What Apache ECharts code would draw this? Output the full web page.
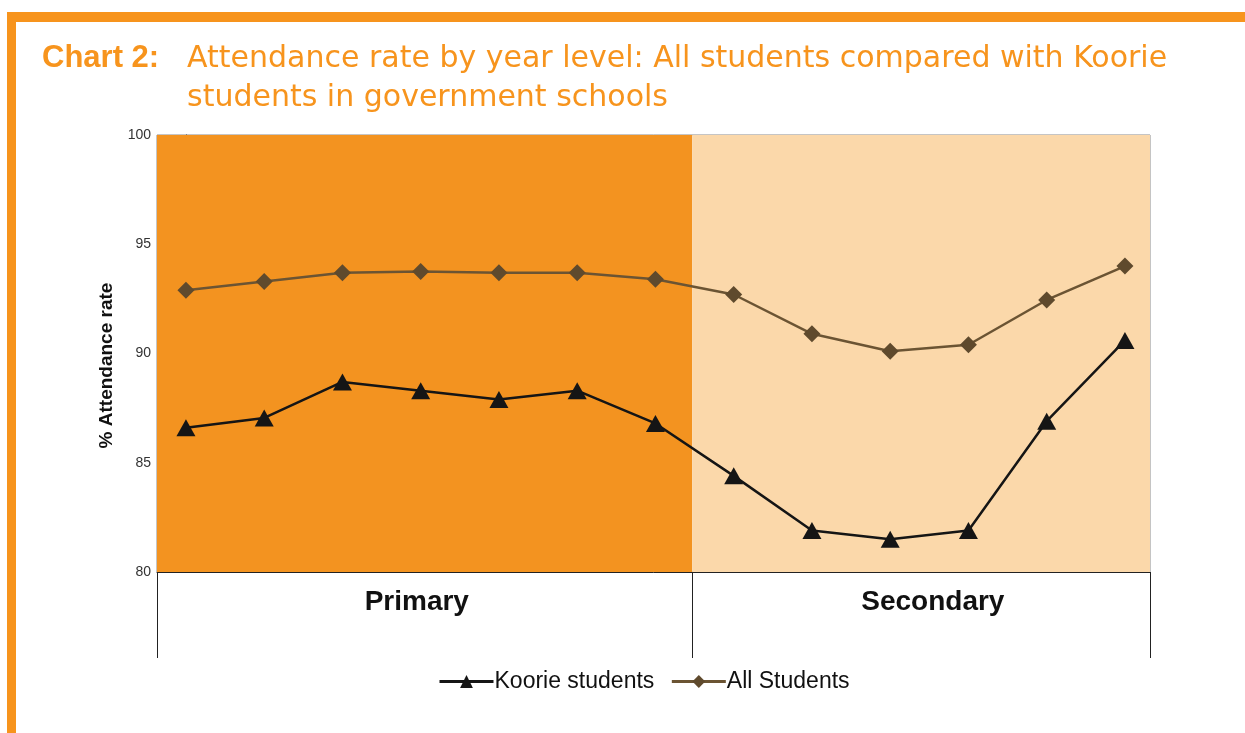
<!DOCTYPE html>
<html>
<head>
<meta charset="utf-8">
<script src="https://cdn.jsdelivr.net/npm/echarts@6/dist/echarts.min.js"></script>
<style>
html,body{margin:0;padding:0;background:#fff;}
#chart{width:1245px;height:733px;}
</style>
</head>
<body>
<div id="chart"></div>
<script>
// ---- data ----
var yearLevels = ['Prep','Year 1','Year 2','Year 3','Year 4','Year 5','Year 6','Year 7','Year 8','Year 9','Year 10','Year 11','Year 12'];
var koorieStudents = [86.6, 87.05, 88.7, 88.3, 87.9, 88.3, 86.8, 84.4, 81.9, 81.5, 81.9, 86.9, 90.6];
var allStudents = [92.9, 93.3, 93.7, 93.75, 93.7, 93.7, 93.4, 92.7, 90.9, 90.1, 90.4, 92.45, 94.0];
var sections = ['Primary', 'Secondary'];
var yTicks = [80, 85, 90, 95, 100];

// axis extents (in year-level index units)
var xMin = -0.37, xMax = 12.32, sectionSplit = 6.47;

var orange = '#F7941D';
var chart = echarts.init(document.getElementById('chart'));

var option = {
  backgroundColor: '#ffffff',
  animation: false,
  graphic: [
    {type:'rect', shape:{x:7, y:12, width:1238, height:10}, style:{fill:orange}, z:100},
    {type:'rect', shape:{x:7, y:12, width:9, height:721}, style:{fill:orange}, z:100}
  ],
  title: [
    {text:'Chart 2:', left:42, top:43, padding:0, textStyle:{fontFamily:'Liberation Sans, Arial', fontSize:31, fontWeight:'bold', color:orange}},
    {text:'Attendance rate by year level: All students compared with Koorie\nstudents in government schools', left:187, top:40, padding:0,
     textStyle:{fontFamily:'DejaVu Sans', fontSize:30, fontWeight:'normal', color:orange, lineHeight:39}}
  ],
  grid: {left:157, right:95, top:135, bottom:161, show:true, borderColor:'#8a8a8a', borderWidth:1, backgroundColor:'transparent'},
  legend: {
    data:['Koorie students','All Students'],
    left:438, top:670, itemWidth:54, itemHeight:16, itemGap:16, padding:0,
    lineStyle:{width:3},
    textStyle:{fontFamily:'Liberation Sans, Arial', fontSize:23, color:'#111', padding:[0,0,0,-4]}
  },
  xAxis: [
    {type:'value', min:xMin, max:xMax, show:true,
     axisLine:{show:true, lineStyle:{color:'#222', width:1}}, axisTick:{show:false}, axisLabel:{show:false}, splitLine:{show:false}},
    {type:'value', min:xMin, max:xMax, position:'bottom', offset:0,
     axisLine:{show:false},
     axisTick:{show:true, length:86, inside:false, customValues:[xMin, sectionSplit, xMax], lineStyle:{color:'#222', width:1}},
     axisLabel:{show:true, customValues:[(xMin+sectionSplit)/2 - 0.1, (sectionSplit+xMax)/2 + 0.15], margin:16,
       formatter:function(v){ return v < sectionSplit ? sections[0] : sections[1]; },
       fontFamily:'Liberation Sans, Arial', fontSize:28, fontWeight:'bold', color:'#111'},
     splitLine:{show:false}}
  ],
  yAxis: {
    type:'value', min:yTicks[0], max:yTicks[yTicks.length-1], interval:5,
    name:'% Attendance rate', nameLocation:'middle', nameGap:38, nameRotate:90,
    nameTextStyle:{fontFamily:'Liberation Sans, Arial', fontSize:19, fontWeight:'bold', color:'#111', padding:[0,24,0,0]},
    axisLine:{show:true, lineStyle:{color:'#222', width:1}},
    axisTick:{show:true, length:5, lineStyle:{color:'#222'}},
    axisLabel:{fontFamily:'Liberation Sans, Arial', fontSize:14, color:'#333', margin:6},
    splitLine:{show:false}
  },
  series: [
    {
      name:'Koorie students', type:'line', xAxisIndex:0,
      data: koorieStudents.map(function(v,i){return [i,v];}),
      symbol:'triangle', symbolSize:[19,17],
      lineStyle:{color:'#151515', width:2.5},
      itemStyle:{color:'#151515'},
      z:5,
      markArea:{
        silent:true,
        data:[
          [{xAxis:xMin, itemStyle:{color:'#F39320'}}, {xAxis:sectionSplit}],
          [{xAxis:sectionSplit, itemStyle:{color:'#FBD8AA'}}, {xAxis:xMax}]
        ]
      }
    },
    {
      name:'All Students', type:'line', xAxisIndex:0,
      data: allStudents.map(function(v,i){return [i,v];}),
      symbol:'diamond', symbolSize:17,
      lineStyle:{color:'#6b5433', width:2.5},
      itemStyle:{color:'#5f4a2d'},
      z:4
    }
  ]
};
chart.setOption(option);
</script>
</body>
</html>
